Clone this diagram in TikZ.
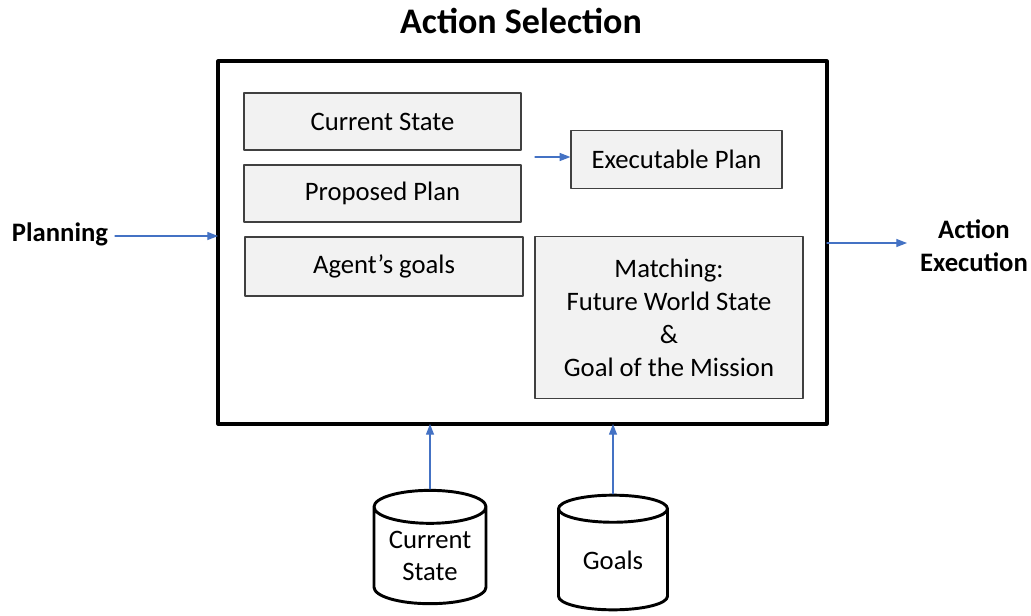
\documentclass[tikz,border=0pt]{standalone}
\usepackage{fontspec}
\setmainfont{Carlito}
\usetikzlibrary{arrows.meta,shapes.geometric}

\definecolor{arrowblue}{HTML}{4472C4}
\definecolor{boxfill}{HTML}{F2F2F2}
\definecolor{boxline}{HTML}{404040}

\tikzset{
  part/.style={draw=boxline, fill=boxfill, line width=0.9pt, inner sep=0pt,
    font=\fontsize{20}{24.75}\selectfont, align=center},
  store/.style={cylinder, shape border rotate=90, draw, line width=2.2pt,
    inner sep=0pt, font=\fontsize{20}{24}\selectfont, align=center},
  flow/.style={draw=arrowblue, line width=0.9pt, -{Triangle[length=8pt,width=6pt]}},
  label/.style={font=\bfseries\fontsize{20}{24.75}\selectfont, align=center}
}

\begin{document}
\begin{tikzpicture}[x=0.75pt, y=-0.75pt, line cap=round, line join=round]
                \useasboundingbox (0,0) rectangle (1031,615);

                \node[font=\bfseries\fontsize{27}{32}\selectfont] (title) at (521,21) {Action Selection};

                \node[draw, line width=2.3pt, minimum width=456.75pt, minimum height=272.25pt, outer sep=0pt] (main) at (522.5,242.5) {};

                \node[part, minimum width=207.75pt, minimum height=42.75pt] (state) at (382.5,121.5) {Current State};
                \node[part, minimum width=207.75pt, minimum height=42.75pt] (proposed) at (382.5,193.5) {Proposed Plan};
                \node[part, minimum width=208.5pt, minimum height=44.25pt] (goals) at (384,266.5) {Agent’s goals};
                \node[part, minimum width=158.25pt, minimum height=43.5pt] (exec) at (676.5,159.5) {Executable Plan};
                \node[part, minimum width=201pt, minimum height=121.5pt] (match) at (669,317.5) {Matching:\\Future World State\\\&\\Goal of the Mission};

                \coordinate (gap) at (535,157);
                \draw[flow] (gap) -- (gap -| exec.west);

                \node[label] (planning) at (60,234) {Planning};
                \coordinate (inl) at (115,236);
                \draw[flow] (inl) -- (main.west |- inl);

                \node[label] (execution) at (974,246) {Action\\Execution};
                \coordinate (outr) at (907,243);
                \draw[flow] (main.east |- outr) -- (outr);

                \node[store, minimum width=84pt, minimum height=85pt, aspect=0.4] (cstore) at (430,556) {Current\\State};
                \node[store, minimum width=81.75pt, minimum height=86pt, aspect=0.45] (gstore) at (613,560) {Goals};

                \draw[flow] (cstore.north) -- (cstore.north |- main.south);
                \draw[flow] (gstore.north) -- (gstore.north |- main.south);

\end{tikzpicture}
\end{document}
